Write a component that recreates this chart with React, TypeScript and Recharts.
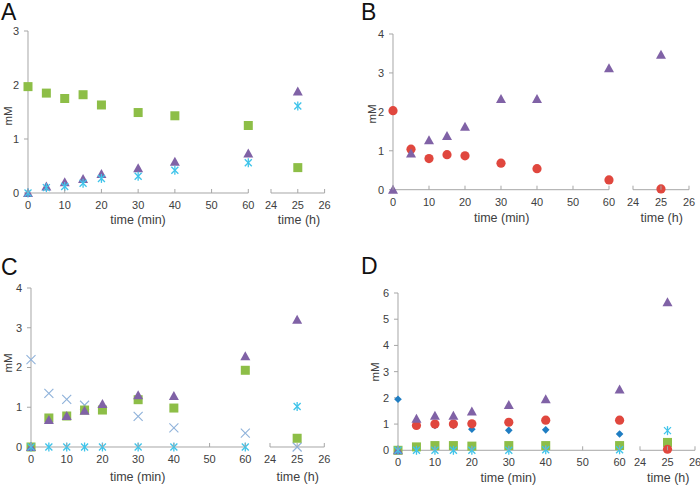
import React from "react"
import { ScatterChart, Scatter, XAxis, YAxis } from "recharts"

const FONT = "'Liberation Sans', Arial, sans-serif"
const AXIS = "#a6a6a6"
const TEXT = "#404040"

// sampling times
const minutes = [0, 5, 10, 15, 20, 30, 40, 60]
const hourTime = 25
const minTicks = [0, 10, 20, 30, 40, 50, 60]
const hourTicks = [24, 25, 26]

// panel A
const aGreen = [1.97, 1.85, 1.75, 1.82, 1.63, 1.49, 1.43, 1.25]
const aGreenH = 0.47
const aPurple = [0, 0.12, 0.2, 0.26, 0.35, 0.46, 0.58, 0.73]
const aPurpleH = 1.88
const aCyan = [0, 0.1, 0.12, 0.18, 0.27, 0.31, 0.42, 0.56]
const aCyanH = 1.61

// panel B
const bRed = [2.03, 1.04, 0.8, 0.9, 0.87, 0.68, 0.54, 0.25]
const bRedH = 0.02
const bPurple = [0, 0.93, 1.27, 1.38, 1.62, 2.33, 2.33, 3.12]
const bPurpleH = 3.47

// panel C
const cCross = [2.2, 1.35, 1.2, 1.05, null, 0.77, 0.48, 0.35]
const cCrossH = 0
const cGreen = [0, 0.73, 0.78, 0.93, 0.93, 1.19, 0.98, 1.93]
const cGreenH = 0.22
const cPurple = [0, 0.68, 0.78, 0.91, 1.08, 1.3, 1.28, 2.28]
const cPurpleH = 3.2
const cCyan = [0, 0, 0, 0, 0, 0, 0, 0]
const cCyanH = 1.02

// panel D
const dGreen = [0, 0.13, 0.18, 0.18, 0.16, 0.18, 0.18, 0.18]
const dGreenH = 0.3
const dRed = [null, 0.95, 1.0, 1.0, 1.01, 1.07, 1.15, 1.15]
const dRedH = 0.04
const dBlue = [1.95, 0.95, 0.95, 0.95, 0.8, 0.76, 0.78, 0.62]
const dBlueH = null
const dPurple = [0, 1.2, 1.32, 1.32, 1.48, 1.73, 1.95, 2.32]
const dPurpleH = 5.65
const dCyan = [0, 0, 0, 0, 0, 0, 0.02, 0.02]
const dCyanH = 0.75

const COLORS = {
  green: "#8dbe47",
  purple: "#8062a6",
  cyan: "#3fc4ea",
  red: "#e0473e",
  blue: "#1f7dc2",
  cross: "#8fb2da",
}

type Kind = "square" | "triangle" | "circle" | "diamond" | "asterisk" | "cross"

interface Series {
  kind: Kind
  color: string
  min: (number | null)[]
  hour: number | null
}

const makeShape = (kind: Kind, color: string) => (props: any) => {
  const { cx, cy } = props
  if (cx == null || cy == null) return <g />
  switch (kind) {
    case "square":
      return <rect x={cx - 4.5} y={cy - 4.5} width={9} height={9} fill={color} />
    case "triangle":
      return <polygon points={`${cx},${cy - 5} ${cx + 5},${cy + 4} ${cx - 5},${cy + 4}`} fill={color} />
    case "circle":
      return <circle cx={cx} cy={cy} r={4.6} fill={color} />
    case "diamond":
      return <polygon points={`${cx},${cy - 3.8} ${cx + 3.8},${cy} ${cx},${cy + 3.8} ${cx - 3.8},${cy}`} fill={color} />
    case "asterisk":
      return (
        <g stroke={color} strokeWidth={1.3}>
          <line x1={cx - 3.5} y1={cy - 3.5} x2={cx + 3.5} y2={cy + 3.5} />
          <line x1={cx - 3.5} y1={cy + 3.5} x2={cx + 3.5} y2={cy - 3.5} />
          <line x1={cx} y1={cy - 4.5} x2={cx} y2={cy + 4.5} />
        </g>
      )
    default:
      return (
        <g stroke={color} strokeWidth={1.1}>
          <line x1={cx - 4.5} y1={cy - 4.5} x2={cx + 4.5} y2={cy + 4.5} />
          <line x1={cx - 4.5} y1={cy + 4.5} x2={cx + 4.5} y2={cy - 4.5} />
        </g>
      )
  }
}

// x ticks in this figure point inward (up)
function InTick(props: any) {
  const { x, y, payload } = props
  return (
    <g>
      <line x1={x} x2={x} y1={y} y2={y - 4} stroke={AXIS} />
      <text x={x} y={y + 16} textAnchor="middle" fill={TEXT} fontSize={11} fontFamily={FONT}>
        {payload.value}
      </text>
    </g>
  )
}

interface SubProps {
  left: number
  right: number
  top: number
  bottom: number
  domain: [number, number]
  ticks: number[]
  yMax: number
  yTicks: number[]
  showY: boolean
  series: Series[]
  hourly: boolean
}

function SubChart({ left, right, top, bottom, domain, ticks, yMax, yTicks, showY, series, hourly }: SubProps) {
  const padL = 40
  const padR = 12
  const W = right - left + padL + padR
  const H = bottom - top + 10 + 30
  return (
    <div style={{ position: "absolute", left: left - padL, top: top - 10, width: W, height: H }}>
      <ScatterChart width={W} height={H} margin={{ top: 10, right: padR, bottom: 0, left: showY ? 0 : padL }}>
        <XAxis
          type="number"
          dataKey="x"
          domain={domain}
          ticks={ticks}
          interval={0}
          height={30}
          stroke={AXIS}
          tickLine={false}
          tickSize={0}
          tickMargin={0}
          tick={<InTick />}
        />
        <YAxis
          type="number"
          dataKey="y"
          domain={[0, yMax]}
          ticks={yTicks}
          interval={0}
          width={padL}
          hide={!showY}
          stroke={AXIS}
          tickSize={4}
          tickMargin={5}
          tick={{ fill: TEXT, fontSize: 11, fontFamily: FONT }}
        />
        {series.map((s, i) => {
          const data = hourly
            ? s.hour == null ? [] : [{ x: hourTime, y: s.hour }]
            : minutes.map((t, j) => ({ x: t, y: s.min[j] })).filter((p) => p.y != null)
          return <Scatter key={i} data={data} fill={s.color} shape={makeShape(s.kind, s.color)} isAnimationActive={false} />
        })}
      </ScatterChart>
    </div>
  )
}

interface PanelProps {
  label: string
  x0: number
  x1: number
  hx0: number
  hx1: number
  yTop: number
  yBottom: number
  yMax: number
  yTicks: number[]
  series: Series[]
  labelX: number
  labelY: number
  mmX: number
  mmY: number
  minTitleX: number
  hourTitleX: number
  titleY: number
}

function Panel(p: PanelProps) {
  return (
    <>
      <div style={{ position: "absolute", left: p.labelX, top: p.labelY, fontFamily: FONT, fontSize: 23, lineHeight: "24px", color: "#111" }}>
        {p.label}
      </div>
      <div
        style={{
          position: "absolute",
          left: p.mmX,
          top: p.mmY,
          transform: "translate(-50%, -50%) rotate(-90deg)",
          fontFamily: FONT,
          fontSize: 11.5,
          color: TEXT,
          whiteSpace: "nowrap",
        }}
      >
        mM
      </div>
      <SubChart left={p.x0} right={p.x1} top={p.yTop} bottom={p.yBottom} domain={[0, 60]} ticks={minTicks} yMax={p.yMax} yTicks={p.yTicks} showY series={p.series} hourly={false} />
      <SubChart left={p.hx0} right={p.hx1} top={p.yTop} bottom={p.yBottom} domain={[24, 26]} ticks={hourTicks} yMax={p.yMax} yTicks={p.yTicks} showY={false} series={p.series} hourly />
      <div style={{ position: "absolute", left: p.minTitleX, top: p.titleY, transform: "translate(-50%, -50%)", fontFamily: FONT, fontSize: 12.5, color: TEXT, whiteSpace: "nowrap" }}>
        time (min)
      </div>
      <div style={{ position: "absolute", left: p.hourTitleX, top: p.titleY, transform: "translate(-50%, -50%)", fontFamily: FONT, fontSize: 12.5, color: TEXT, whiteSpace: "nowrap" }}>
        time (h)
      </div>
    </>
  )
}

export default function App() {
  const seriesA: Series[] = [
    { kind: "square", color: COLORS.green, min: aGreen, hour: aGreenH },
    { kind: "triangle", color: COLORS.purple, min: aPurple, hour: aPurpleH },
    { kind: "asterisk", color: COLORS.cyan, min: aCyan, hour: aCyanH },
  ]
  const seriesB: Series[] = [
    { kind: "circle", color: COLORS.red, min: bRed, hour: bRedH },
    { kind: "triangle", color: COLORS.purple, min: bPurple, hour: bPurpleH },
  ]
  const seriesC: Series[] = [
    { kind: "cross", color: COLORS.cross, min: cCross, hour: cCrossH },
    { kind: "square", color: COLORS.green, min: cGreen, hour: cGreenH },
    { kind: "triangle", color: COLORS.purple, min: cPurple, hour: cPurpleH },
    { kind: "asterisk", color: COLORS.cyan, min: cCyan, hour: cCyanH },
  ]
  const seriesD: Series[] = [
    { kind: "square", color: COLORS.green, min: dGreen, hour: dGreenH },
    { kind: "diamond", color: COLORS.blue, min: dBlue, hour: dBlueH },
    { kind: "circle", color: COLORS.red, min: dRed, hour: dRedH },
    { kind: "triangle", color: COLORS.purple, min: dPurple, hour: dPurpleH },
    { kind: "asterisk", color: COLORS.cyan, min: dCyan, hour: dCyanH },
  ]

  return (
    <div style={{ position: "absolute", left: 0, top: 0, width: 700, height: 485, overflow: "hidden", background: "#fff" }}>
      <Panel label="A" x0={27.7} x1={248} hx0={270.7} hx1={324.3} yTop={31} yBottom={193} yMax={3} yTicks={[0, 1, 2, 3]} series={seriesA}
        labelX={1} labelY={0} mmX={7.5} mmY={116} minTitleX={138} hourTitleX={299} titleY={220} />
      <Panel label="B" x0={393.3} x1={609.3} hx0={633.3} hx1={689.3} yTop={34.3} yBottom={190} yMax={4} yTicks={[0, 1, 2, 3, 4]} series={seriesB}
        labelX={361} labelY={0} mmX={371.5} mmY={114} minTitleX={501.7} hourTitleX={661.7} titleY={218} />
      <Panel label="C" x0={30.7} x1={245} hx0={270} hx1={324.3} yTop={288.3} yBottom={447.3} yMax={4} yTicks={[0, 1, 2, 3, 4]} series={seriesC}
        labelX={1} labelY={255} mmX={7.5} mmY={363} minTitleX={137.7} hourTitleX={297.7} titleY={477} />
      <Panel label="D" x0={397.7} x1={619.3} hx0={640} hx1={695} yTop={292.7} yBottom={450} yMax={6} yTicks={[0, 1, 2, 3, 4, 5, 6]} series={seriesD}
        labelX={361} labelY={254} mmX={375} mmY={371.7} minTitleX={508.3} hourTitleX={668.3} titleY={478} />
    </div>
  )
}
